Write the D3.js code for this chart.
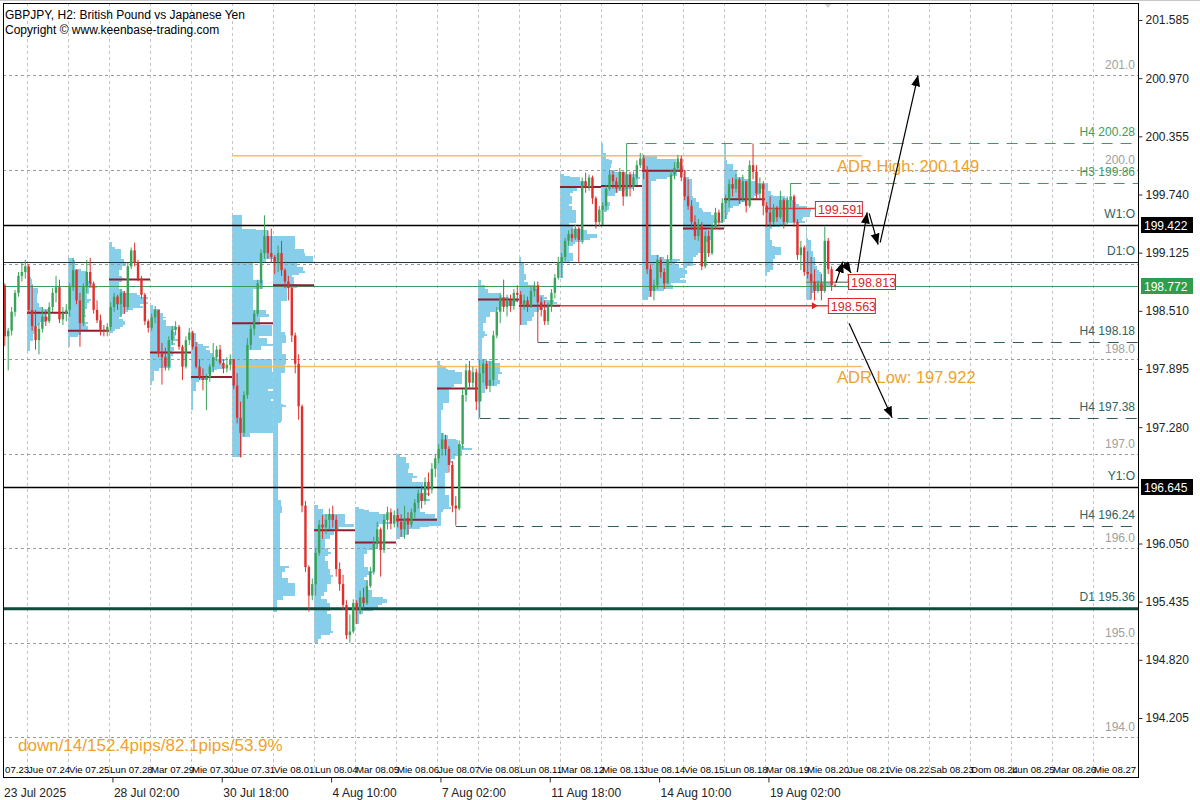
<!DOCTYPE html>
<html><head><meta charset="utf-8">
<script src="https://cdn.jsdelivr.net/npm/d3@7"></script>
<style>
body{margin:0;background:#fff;}
svg{display:block;font-family:"Liberation Sans",Arial,sans-serif;}
</style></head>
<body><svg id="c" width="1200" height="800"></svg>
<script>
// ---------------- DATA ----------------
const dayLabels = ["Mie 07.23","Jue 07.24","Vie 07.25","Lun 07.28","Mar 07.29","Mie 07.30","Jue 07.31","Vie 08.01","Lun 08.04","Mar 08.05","Mie 08.06","Jue 08.07","Vie 08.08","Lun 08.11","Mar 08.12","Mie 08.13","Jue 08.14","Vie 08.15","Lun 08.18","Mar 08.19","Mie 08.20","Jue 08.21","Vie 08.22","Sab 08.23","Dom 08.24","Lun 08.25","Mar 08.26","Mie 08.27"];
const firstBarOfDay0 = 5;            // first visible H2 bar on 07.23 (10:00)
const firstOpen = 198.78;
const barsPerDay = [7,12,12,12,12,12,12,12,12,12,12,12,12,12,12,12,12,12,12,12,9];
const closes = [
 198.24,198.30,198.50,198.70,198.88,198.92,198.98,
 198.52,198.35,198.20,198.32,198.45,198.40,198.55,198.70,198.76,198.42,198.48,198.52,
 198.76,198.94,198.62,198.38,198.76,198.92,198.80,198.52,198.41,198.31,198.30,198.34,
 198.55,198.66,198.58,198.70,198.55,198.98,199.15,199.02,198.85,198.68,198.40,198.33,
 198.44,198.52,198.06,198.02,197.92,198.20,198.31,198.34,198.13,197.92,198.20,198.28,
 198.13,197.92,197.81,197.78,197.81,197.92,198.02,198.10,197.96,197.90,197.94,198.00,
 197.72,197.38,197.22,197.62,198.15,198.32,198.48,198.80,199.12,199.30,199.12,199.08,
 199.03,199.12,198.94,198.82,198.75,198.25,197.95,197.50,196.45,195.80,195.50,195.62,
 195.95,196.25,196.22,196.30,196.36,196.30,195.78,195.62,195.40,195.08,195.12,195.42,
 195.35,195.48,195.42,195.60,195.75,196.05,196.20,195.98,196.30,196.38,196.26,196.35,
 196.28,196.20,196.32,196.25,196.38,196.48,196.58,196.50,196.70,196.62,196.84,196.95,
 197.05,197.15,197.05,196.88,196.45,196.42,197.10,197.62,197.88,197.75,197.86,197.55,
 197.85,197.95,197.72,197.78,198.25,198.50,198.65,198.55,198.62,198.56,198.70,198.68,
 198.58,198.62,198.56,198.72,198.78,198.60,198.52,198.40,198.55,198.70,198.86,199.02,
 199.08,199.25,199.32,199.28,199.38,199.26,199.88,199.82,199.92,199.70,199.45,199.58,
 199.62,199.80,199.95,199.88,199.80,199.98,199.72,199.95,199.82,199.92,200.05,200.12,
 200.00,198.95,198.72,198.78,199.05,198.92,198.80,199.05,199.95,200.02,200.12,199.92,
 199.72,199.62,199.45,199.30,199.42,198.98,199.30,199.12,199.40,199.55,199.45,199.65,
 199.68,199.85,199.80,199.90,199.70,199.88,199.62,200.05,199.98,199.75,199.85,199.62,
 199.55,199.45,199.60,199.50,199.68,199.45,199.68,199.72,199.45,199.10,199.18,198.92,
 198.90,198.82,198.72,198.80,198.72,199.25,198.95,198.78,198.772
];
const highs = [
 198.80,198.33,198.55,198.73,198.92,199.02,199.05,
 199.00,198.78,198.52,198.38,198.55,198.52,198.60,198.75,198.88,198.84,198.55,198.58,
 198.80,199.07,198.95,198.70,198.80,199.05,199.07,198.82,198.62,198.47,198.36,198.38,
 198.60,198.70,198.68,198.74,198.72,199.02,199.18,199.23,199.05,198.88,198.70,198.42,
 198.48,198.56,198.52,198.17,198.12,198.24,198.35,198.40,198.36,198.15,198.24,198.33,
 198.30,198.18,198.00,197.90,197.84,197.95,198.17,198.14,198.15,198.00,198.02,198.05,
 198.00,197.85,197.55,197.66,198.22,198.36,198.52,198.84,199.16,199.52,199.36,199.38,
 199.10,199.20,199.25,198.96,198.88,198.78,198.28,198.05,197.52,196.50,195.82,195.68,
 196.00,196.30,196.35,196.36,196.42,196.45,196.35,195.85,195.72,195.45,195.30,195.46,
 195.45,195.55,195.58,195.66,195.80,196.12,196.28,196.22,196.36,196.44,196.42,196.40,
 196.42,196.36,196.45,196.38,196.42,196.52,196.62,196.66,196.75,196.80,196.90,197.00,
 197.10,197.22,197.20,197.08,196.92,196.55,197.14,197.68,197.95,197.98,197.92,197.90,
 197.99,198.00,197.98,197.98,198.30,198.55,198.70,198.84,198.68,198.68,198.74,198.78,
 198.72,198.68,198.66,198.76,198.82,198.82,198.66,198.62,198.60,198.74,198.90,199.08,
 199.12,199.28,199.36,199.38,199.42,199.40,199.92,199.97,199.95,199.94,199.72,199.62,
 199.66,199.84,200.00,199.99,199.92,200.02,199.96,200.28,199.98,199.98,200.10,200.18,
 200.16,200.04,199.00,198.84,199.10,199.08,198.96,199.10,200.00,200.08,200.16,200.15,
 200.00,199.90,199.68,199.52,199.48,199.45,199.35,199.36,199.44,199.60,199.58,199.70,
 199.74,199.90,199.92,200.00,199.92,199.95,199.78,200.10,200.28,200.05,199.92,199.88,
 199.66,199.72,199.64,199.62,199.78,199.70,199.72,199.86,199.74,199.48,199.25,199.20,
 199.14,199.08,198.95,198.83,198.90,199.40,199.28,198.98,198.80
];
const lows = [
 198.14,197.88,198.25,198.45,198.66,198.82,198.85,
 198.48,198.30,198.10,198.05,198.28,198.35,198.38,198.50,198.60,198.38,198.36,198.40,
 198.45,198.72,198.58,198.13,198.35,198.70,198.76,198.48,198.38,198.25,198.24,198.24,
 198.30,198.50,198.52,198.45,198.48,198.52,198.95,198.98,198.82,198.64,198.36,198.28,
 198.30,198.38,198.02,197.73,197.88,197.88,198.15,198.25,198.10,197.78,197.90,198.15,
 198.10,197.90,197.78,197.67,197.46,197.76,197.86,197.98,197.94,197.85,197.86,197.88,
 197.68,197.32,196.96,197.18,197.58,198.10,198.25,198.45,198.74,199.06,199.06,199.02,
 198.90,198.92,198.88,198.75,198.62,198.18,197.85,197.36,196.38,195.75,195.33,195.45,
 195.50,195.92,196.10,196.15,196.20,196.22,195.70,195.55,195.35,195.04,195.00,195.10,
 195.20,195.30,195.36,195.40,195.58,195.72,196.00,195.70,195.95,196.20,196.20,196.22,
 196.22,196.12,196.10,196.15,196.22,196.32,196.42,196.42,196.46,196.55,196.58,196.75,
 196.90,196.98,196.98,196.80,196.38,196.24,196.40,197.05,197.55,197.68,197.70,197.46,
 197.38,197.75,197.68,197.65,197.72,198.22,198.38,198.50,198.45,198.50,198.52,198.60,
 198.36,198.52,198.50,198.54,198.66,198.18,198.45,198.36,198.36,198.50,198.64,198.84,
 198.86,199.04,199.20,199.24,199.26,199.02,199.22,199.76,199.78,199.64,199.38,199.40,
 199.42,199.56,199.78,199.80,199.76,199.78,199.62,199.78,199.72,199.78,199.90,200.02,
 199.90,198.90,198.66,198.62,198.74,198.86,198.74,198.84,199.02,199.90,199.98,199.88,
 199.68,199.58,199.40,199.26,199.25,198.94,198.96,199.08,199.10,199.38,199.40,199.44,
 199.48,199.60,199.72,199.76,199.64,199.66,199.55,199.60,199.90,199.70,199.70,199.52,
 199.40,199.40,199.42,199.45,199.48,199.38,199.42,199.60,199.40,199.05,198.94,198.88,
 198.85,198.63,198.62,198.70,198.62,198.70,198.90,198.72,198.76
];
// daily volume-profile point of control and relative peak size (day widths)
const pocPrices = [null,198.49,198.30,198.84,198.07,197.81,198.38,198.78,196.19,196.06,196.30,197.69,198.63,198.563,199.82,199.83,199.99,199.38,199.69,199.591,198.813];
const profilePeak = [0,0.56,0.7,0.95,0.73,0.83,1.78,0.98,0.98,0.85,1.1,0.85,0.98,0.93,0.9,0.95,1.1,0.98,1.05,1.12,0.66];

const yTicks = [201.585,200.970,200.355,199.740,199.125,198.510,197.895,197.280,196.050,195.435,194.820,194.205];
const roundLevels = [201,200,199,198,197,196,195,194];
const roundLabels = ["201.0","200.0","","198.0","197.0","196.0","195.0","194.0"];
const timeLabels = ["28 Jul 02:00","30 Jul 18:00","4 Aug 10:00","7 Aug 02:00","11 Aug 18:00","14 Aug 10:00","19 Aug 02:00"];
const timeDay = [3,5,8,11,13,16,19];
const timeHour = [2,18,10,2,18,10,2];

const pivotNames = ["H4 200.28","H3 199.86","H4 198.18","H4 197.38","H4 196.24"];
const pivotPrices = [200.28,199.86,198.18,197.38,196.24];
const pivotFromDay = [15,19,13,12,11];
const pivotFromBar = [7,7,5,0,5];
const pivotKind = ["up","up","dn","dn","dn"];
const d1Name = "D1 195.36", d1Price = 195.36;
const openNames = ["W1:O","D1:O","Y1:O"];
const openPrices = [199.422,199.03,196.645];
const adrNames = ["ADR High: 200.149","ADR Low: 197.922"];
const adrPrices = [200.149,197.922];
const adrFromDay = 6, adrToSlot = 256.4, adrTextSlot = 249.1;
const currentPrice = 198.772;
const nakedPocDays = [13,19,20];
const nakedPocEndSlot = [246.4,242.6,252.3];
const scenarioUp = [[[248.8,198.81],[250.8,199.03]],[[251.2,199.02],[253.2,198.91]],[[255.0,198.92],[257.9,199.55]],[[258.5,199.54],[261.1,199.21]],[[261.7,199.23],[272.8,201.0]]];
const scenarioDown = [[[252.6,198.38],[265.2,197.38]]];
const statsText = "down/14/152.4pips/82.1pips/53.9%";

// ---------------- CHART ----------------
const L=3,R=1138,T=3,B=777;
const svg=d3.select("#c");
const x=d3.scaleLinear().domain([0,336]).range([-14,1134]);
const y=d3.scaleLinear().domain([201.585,194.205]).range([20,718]);
const dayW=x(12)-x(0);
const GREEN="#3aa35a", RED="#e0302c", POC="#8c1f30", TEAL="#2d6464", LGREEN="#3c9c5c", ORANGE="#f0a22a";

const defs=svg.append("defs");
defs.append("clipPath").attr("id","plot").append("rect").attr("x",L).attr("y",T).attr("width",R-L).attr("height",B-T);
defs.append("marker").attr("id","ah").attr("markerUnits","userSpaceOnUse").attr("markerWidth",12).attr("markerHeight",10)
  .attr("refX",11).attr("refY",4.5).attr("orient","auto")
  .append("path").attr("d","M0,0 L11,4.5 L0,9 Z").attr("fill","#000");

// build bars
const bars=[]; let prev=firstOpen, k=0;
barsPerDay.forEach((n,d)=>{
  for(let b=0;b<n;b++){
    const bi=(d===0?firstBarOfDay0+b:b);
    const o=prev,c=closes[k];
    bars.push({day:d,slot:d*12+bi,o:o,c:c,h:Math.max(highs[k],o,c),l:Math.min(lows[k],o,c)});
    prev=c;k++;
  }
});

const g=svg.append("g").attr("clip-path","url(#plot)");
const gProf=g.append("g"), gGrid=g.append("g"), gLev=g.append("g"), gPoc=g.append("g"), gC=g.append("g"), gA=g.append("g");

// volume profiles: time at price, each bar spread over its range (body weighted more)
const BIN=0.02;
barsPerDay.forEach((n,d)=>{
  if(!profilePeak[d]) return;
  const db=bars.filter(b=>b.day===d);
  const lo=d3.min(db,b=>b.l), hi=d3.max(db,b=>b.h);
  const nb=Math.ceil((hi-lo)/BIN);
  const vol=new Array(nb).fill(0);
  db.forEach(b=>{
    const bt=Math.max(b.o,b.c), bb=Math.min(b.o,b.c);
    const idx=[],w=[];
    for(let i=0;i<nb;i++){const m=lo+(i+0.5)*BIN; if(m>=b.l&&m<=b.h){idx.push(i);w.push(m>=bb&&m<=bt?1:0.45);}}
    const s=Math.sqrt(d3.sum(w)||1);
    idx.forEach((i,j)=>vol[i]+=w[j]/s);
  });
  const mx=d3.max(vol);
  const x0=x(d*12);
  gProf.selectAll(null).data(vol.map((v,i)=>({i:i,v:v}))).enter().append("rect")
    .attr("x",x0).attr("y",b=>y(lo+(b.i+1)*BIN))
    .attr("width",b=>b.v/mx*profilePeak[d]*dayW)
    .attr("height",b=>y(lo+b.i*BIN)-y(lo+(b.i+1)*BIN))
    .attr("fill","#87ceeb").attr("shape-rendering","crispEdges");
});

// day separators
gGrid.selectAll(null).data(d3.range(1,28)).enter().append("line")
  .attr("x1",d=>Math.round(x(d*12))+0.5).attr("x2",d=>Math.round(x(d*12))+0.5).attr("y1",T).attr("y2",B)
  .attr("stroke","#c4c4c4").attr("stroke-dasharray","3,3");
// round levels
roundLevels.forEach((v,i)=>{
  const yy=Math.round(y(v))+0.5;
  gGrid.append("line").attr("x1",L).attr("x2",R).attr("y1",yy).attr("y2",yy).attr("stroke","#9a9a9a").attr("stroke-dasharray","3,3");
  if(roundLabels[i]) gGrid.append("text").attr("x",R-3).attr("y",yy-7).attr("text-anchor","end").attr("font-size",12).attr("fill","#a0a0a0").text(roundLabels[i]);
});

// pivots
pivotNames.forEach((nm,i)=>{
  const yy=Math.round(y(pivotPrices[i]))+0.5, col=pivotKind[i]==="up"?LGREEN:TEAL;
  gLev.append("line").attr("x1",x(pivotFromDay[i]*12+pivotFromBar[i]+0.5)).attr("x2",R).attr("y1",yy).attr("y2",yy)
    .attr("stroke",pivotKind[i]==="up"?LGREEN:"#2f5d5d").attr("stroke-width",1.2).attr("stroke-dasharray","11,8");
  gLev.append("text").attr("x",R-3).attr("y",yy-8).attr("text-anchor","end").attr("font-size",12).attr("fill",col).text(nm);
});
{ const yy=y(d1Price);
  gLev.append("line").attr("x1",L).attr("x2",R).attr("y1",yy).attr("y2",yy).attr("stroke","#0f4a3c").attr("stroke-width",3);
  gLev.append("text").attr("x",R-3).attr("y",yy-8).attr("text-anchor","end").attr("font-size",12).attr("fill",TEAL).text(d1Name);
}
openNames.forEach((nm,i)=>{
  const yy=Math.round(y(openPrices[i]))+0.5;
  gLev.append("line").attr("x1",L).attr("x2",R).attr("y1",yy).attr("y2",yy).attr("stroke",i===1?"#1d3b3b":"#000").attr("stroke-width",i===1?1:1.5);
  gLev.append("text").attr("x",R-3).attr("y",yy-8).attr("text-anchor","end").attr("font-size",12).attr("fill","#2f5e5e").text(nm);
});
// current price line
gLev.append("line").attr("x1",L).attr("x2",R).attr("y1",Math.round(y(currentPrice))+0.5).attr("y2",Math.round(y(currentPrice))+0.5).attr("stroke",LGREEN).attr("stroke-width",1);
// ADR
adrPrices.forEach((p,i)=>{
  gLev.append("line").attr("x1",x(adrFromDay*12)).attr("x2",x(adrToSlot)).attr("y1",y(p)).attr("y2",y(p)).attr("stroke","#f3c060").attr("stroke-width",1.6);
  gA.append("text").attr("x",x(adrTextSlot)).attr("y",y(p)+16.5).attr("font-size",16.5).attr("fill",ORANGE).text(adrNames[i]);
});

// POC lines
pocPrices.forEach((p,d)=>{
  if(p==null||nakedPocDays.includes(d)) return;
  gPoc.append("line").attr("x1",x(d*12)).attr("x2",x(d*12+12)).attr("y1",y(p)).attr("y2",y(p)).attr("stroke",POC).attr("stroke-width",2);
});
nakedPocDays.forEach((d,i)=>{
  const p=pocPrices[d], yy=y(p), x0=x(d*12), x1=x(nakedPocEndSlot[i]);
  const col=d===20?"#8a8a8a":"#e03a3a";
  if(d===13) gPoc.append("line").attr("x1",x0).attr("x2",x(d*12+12)).attr("y1",yy).attr("y2",yy).attr("stroke",POC).attr("stroke-width",2);
  gPoc.append("line").attr("x1",d===13?x(d*12+12):x0).attr("x2",x1).attr("y1",yy).attr("y2",yy).attr("stroke",col).attr("stroke-width",1.5);
  if(d===13) gA.append("path").attr("d",`M${x1-16},${yy-3.5} L${x1-10},${yy} L${x1-16},${yy+3.5} Z`).attr("fill","#e02020");
  const txt=p.toFixed(3), w=47;
  gA.append("rect").attr("x",x1+0.5).attr("y",Math.round(yy)-7.5).attr("width",w).attr("height",15).attr("fill","#fff").attr("stroke","#d8262b");
  gA.append("text").attr("x",x1+3).attr("y",Math.round(yy)+4.5).attr("font-size",12.5).attr("fill","#d8262b").text(txt);
});

// candles
const bw=2.4;
gC.selectAll(null).data(bars).enter().append("line")
  .attr("x1",b=>x(b.slot+0.5)).attr("x2",b=>x(b.slot+0.5)).attr("y1",b=>y(b.h)).attr("y2",b=>y(b.l))
  .attr("stroke",b=>b.c>=b.o?GREEN:RED).attr("stroke-width",1);
gC.selectAll(null).data(bars).enter().append("rect")
  .attr("x",b=>x(b.slot+0.5)-bw/2).attr("width",bw)
  .attr("y",b=>y(Math.max(b.o,b.c))).attr("height",b=>Math.max(1,Math.abs(y(b.o)-y(b.c))))
  .attr("fill",b=>b.c>=b.o?GREEN:RED);

// scenario arrows
scenarioUp.concat(scenarioDown).forEach(seg=>{
  gA.append("line").attr("x1",x(seg[0][0])).attr("y1",y(seg[0][1])).attr("x2",x(seg[1][0])).attr("y2",y(seg[1][1]))
    .attr("stroke","#000").attr("stroke-width",1.2).attr("marker-end","url(#ah)");
});

// day labels
g.selectAll(null).data(dayLabels).enter().append("text")
  .attr("x",(d,i)=>x(i*12)+1).attr("y",B-4).attr("font-size",9.6).attr("fill","#000").text(d=>d);

// stats + title
svg.append("text").attr("x",18).attr("y",751).attr("font-size",17).attr("fill",ORANGE).text(statsText);
svg.append("text").attr("x",5).attr("y",18.5).attr("font-size",12).attr("fill","#000").text("GBPJPY, H2:  British Pound vs Japanese Yen");
svg.append("text").attr("x",5).attr("y",33.5).attr("font-size",12).attr("fill","#000").text("Copyright \u00a9 www.keenbase-trading.com");
// chart-shift marker
svg.append("path").attr("d","M824,3 L832,3 L828,8 Z").attr("fill","#d0d0d0");

// frame
svg.append("rect").attr("x",L+0.5).attr("y",T+0.5).attr("width",R-L).attr("height",B-T).attr("fill","none").attr("stroke","#000");
svg.append("line").attr("x1",0).attr("x2",1200).attr("y1",0.5).attr("y2",0.5).attr("stroke","#c8c8c8");

// right axis
const ax=svg.append("g").attr("transform",`translate(${R+0.5},0)`)
  .call(d3.axisRight(y).tickValues(yTicks).tickSize(4).tickPadding(3).tickFormat(d3.format(".3f")));
ax.select(".domain").remove();
ax.selectAll("line").attr("stroke","#333");
ax.selectAll("text").attr("font-size",12).attr("font-family","Liberation Sans, Arial").attr("fill","#222");
// price boxes
[[openPrices[0],"#000"],[currentPrice,"#2e9e4e"],[openPrices[2],"#000"]].forEach(([p,c])=>{
  const yy=Math.round(y(p));
  svg.append("rect").attr("x",R+3).attr("y",yy-8).attr("width",52).attr("height",16).attr("fill",c);
  svg.append("text").attr("x",R+6).attr("y",yy+4.5).attr("font-size",12).attr("fill","#fff").text(p.toFixed(3));
});

// bottom axis
const bx=svg.append("g").attr("transform",`translate(0,${B+0.5})`)
  .call(d3.axisBottom(x).tickValues(timeDay.map((d,i)=>d*12+timeHour[i]/2)).tickSize(5).tickFormat((d,i)=>timeLabels[i]));
bx.select(".domain").remove();
bx.selectAll("line").attr("stroke","#333");
bx.selectAll("text").attr("text-anchor","start").attr("x",1).attr("y",19).attr("dy",null)
  .attr("font-size",12).attr("font-family","Liberation Sans, Arial").attr("fill","#222");
svg.append("text").attr("x",4).attr("y",B+19.5).attr("font-size",12).attr("fill","#222").text("23 Jul 2025");
</script></body></html>
